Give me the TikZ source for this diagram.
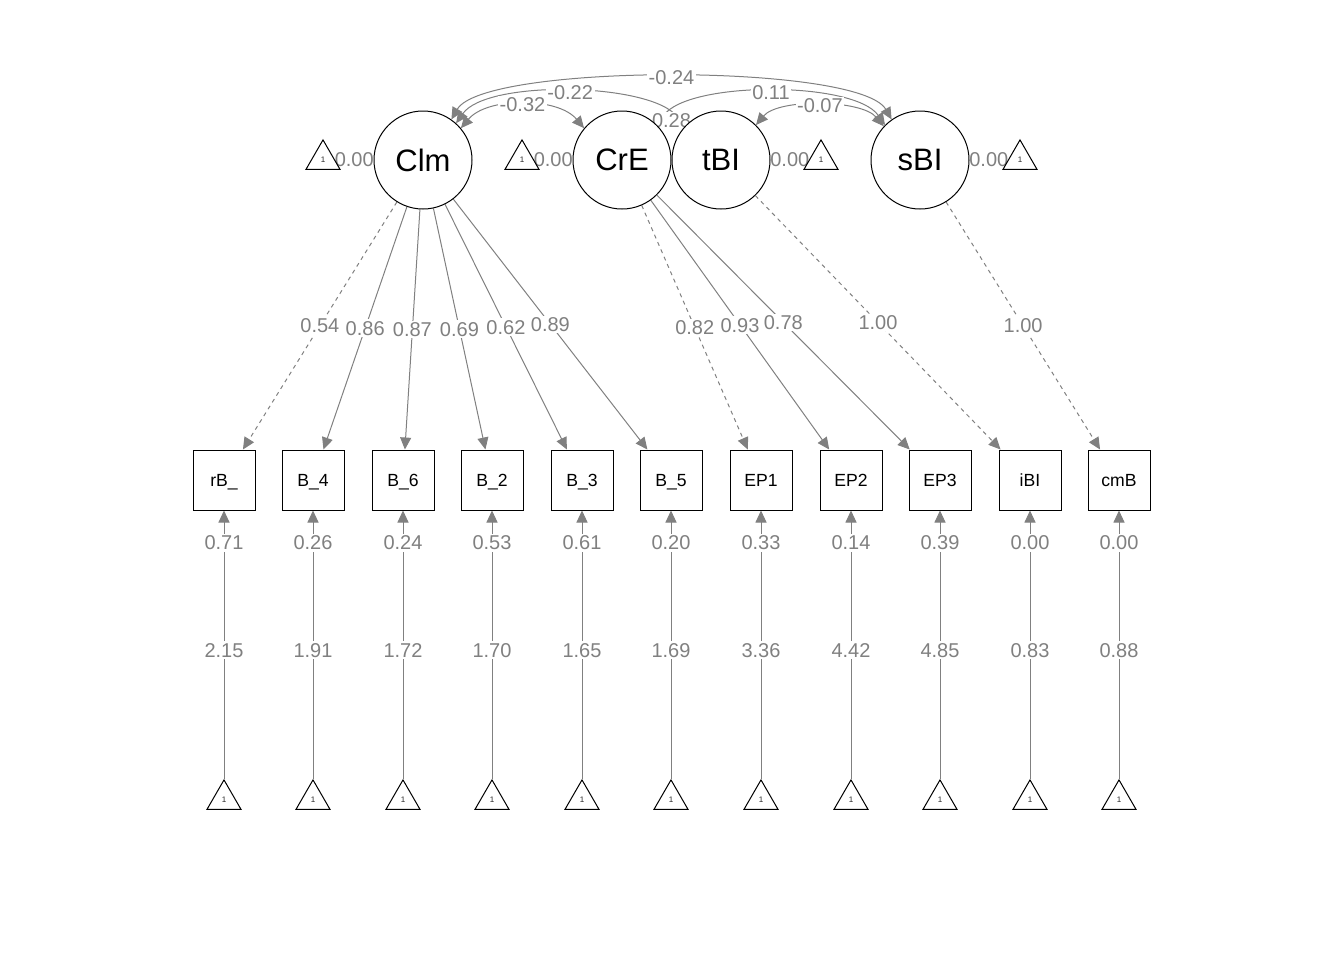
\documentclass[tikz,border=0pt]{standalone}
\usepackage{fontspec}
\setmainfont{Liberation Sans}
\usepackage{tikz}
\usetikzlibrary{shapes,arrows.meta}
\pgfdeclarelayer{background}
\pgfsetlayers{background,main}

\begin{document}
\begin{tikzpicture}[x = .5pt, y = .5pt,
  lat/.style = {draw, circle, fill = white, line width = .5pt, minimum size = 49pt, inner sep = 0pt, font = \fontsize{15.5}{18}\selectfont},
  man/.style = {draw, rectangle, fill = white, line width = .5pt, minimum width = 31pt, minimum height = 30pt, inner sep = 0pt, text height = 8pt, text depth = 1.6pt, font = \fontsize{8.8}{10}\selectfont},
  one/.style = {draw, regular polygon, regular polygon sides = 3, minimum size = 19.6pt, inner sep = 0pt, line width = .5pt, font = \fontsize{4}{5}\selectfont, text = black!85},
  arr/.style = {draw = gray, line width = .5pt, -{Triangle[length = 6pt, width = 5.5pt]}},
  fix/.style = {arr, dash pattern = on 2pt off 2pt},
  cov/.style = {arr, {Triangle[length = 6pt, width = 5.5pt]}-{Triangle[length = 6pt, width = 5.5pt]}},
  lab/.style = {fill = white, inner sep = .8pt, text height = 7.2pt, text depth = 0pt, text = gray, font = \fontsize{10}{12}\selectfont}]
\useasboundingbox (0,0) rectangle (1344,-960);
% latent variables and their intercepts
\node[lat] (Clm) at (423,-160) {Clm};
\node[lat] (CrE) at (622,-160) {CrE};
\node[lat] (tBI) at (721,-160) {tBI};
\node[lat] (sBI) at (920,-160) {sBI};
\node[one] (iClm) at (323,-159.5) {1};
\node[one] (iCrE) at (522,-159.5) {1};
\node[one] (itBI) at (821,-159.5) {1};
\node[one] (isBI) at (1020,-159.5) {1};
% observed variables
\node[man] (rB) at (224,-480) {rB\_};
\node[man] (B4) at (313,-480) {B\_4};
\node[man] (B6) at (403,-480) {B\_6};
\node[man] (B2) at (492,-480) {B\_2};
\node[man] (B3) at (582,-480) {B\_3};
\node[man] (B5) at (671,-480) {B\_5};
\node[man] (EP1) at (761,-480) {EP1};
\node[man] (EP2) at (851,-480) {EP2};
\node[man] (EP3) at (940,-480) {EP3};
\node[man] (iBI) at (1030,-480) {iBI};
\node[man] (cmB) at (1119,-480) {cmB};
\node[one] (irB) at (224,-799.5) {1};
\node[one] (iB4) at (313,-799.5) {1};
\node[one] (iB6) at (403,-799.5) {1};
\node[one] (iB2) at (492,-799.5) {1};
\node[one] (iB3) at (582,-799.5) {1};
\node[one] (iB5) at (671,-799.5) {1};
\node[one] (iEP1) at (761,-799.5) {1};
\node[one] (iEP2) at (851,-799.5) {1};
\node[one] (iEP3) at (940,-799.5) {1};
\node[one] (iiBI) at (1030,-799.5) {1};
\node[one] (icmB) at (1119,-799.5) {1};
\begin{pgfonlayer}{background}
% covariances
\draw[cov] (Clm.55) .. controls +(60:65) and +(120:65) .. node[lab]{-0.24} (sBI.125);
\draw[cov] (Clm.48) .. controls +(55:54) and +(125:54) .. node[lab]{-0.22} (tBI.138);
\draw[cov] (CrE.45) .. controls +(55:54) and +(125:54) .. node[lab]{0.11} (sBI.135);
\draw[cov] (Clm.40) .. controls +(50:41) and +(130:41) .. node[lab]{-0.32} (CrE.140);
\draw[cov] (tBI.45) .. controls +(50:35) and +(130:35) .. node[lab]{-0.07} (sBI.137);
\draw[cov] (CrE.40) .. controls +(60:12) and +(120:12) .. node[lab]{0.28} (tBI.140);
\draw[arr] (iClm) -- node[lab]{0.00} (Clm);
\draw[arr] (iCrE) -- node[lab]{0.00} (CrE);
\draw[arr] (itBI) -- node[lab]{0.00} (tBI);
\draw[arr] (isBI) -- node[lab]{0.00} (sBI);
% loadings
\draw[fix] (Clm) -- node[lab]{0.54} (rB);
\draw[arr] (Clm) -- node[lab]{0.86} (B4);
\draw[arr] (Clm) -- node[lab]{0.87} (B6);
\draw[arr] (Clm) -- node[lab]{0.69} (B2);
\draw[arr] (Clm) -- node[lab]{0.62} (B3);
\draw[arr] (Clm) -- node[lab]{0.89} (B5);
\draw[fix] (CrE) -- node[lab]{0.82} (EP1);
\draw[arr] (CrE) -- node[lab]{0.93} (EP2);
\draw[arr] (CrE) -- node[lab]{0.78} (EP3);
\draw[fix] (tBI) -- node[lab]{1.00} (iBI);
\draw[fix] (sBI) -- node[lab]{1.00} (cmB);
% intercepts and residuals
\draw[arr] (irB) -- node[lab, pos = .48]{2.15} node[lab, pos = .88]{0.71} (rB);
\draw[arr] (iB4) -- node[lab, pos = .48]{1.91} node[lab, pos = .88]{0.26} (B4);
\draw[arr] (iB6) -- node[lab, pos = .48]{1.72} node[lab, pos = .88]{0.24} (B6);
\draw[arr] (iB2) -- node[lab, pos = .48]{1.70} node[lab, pos = .88]{0.53} (B2);
\draw[arr] (iB3) -- node[lab, pos = .48]{1.65} node[lab, pos = .88]{0.61} (B3);
\draw[arr] (iB5) -- node[lab, pos = .48]{1.69} node[lab, pos = .88]{0.20} (B5);
\draw[arr] (iEP1) -- node[lab, pos = .48]{3.36} node[lab, pos = .88]{0.33} (EP1);
\draw[arr] (iEP2) -- node[lab, pos = .48]{4.42} node[lab, pos = .88]{0.14} (EP2);
\draw[arr] (iEP3) -- node[lab, pos = .48]{4.85} node[lab, pos = .88]{0.39} (EP3);
\draw[arr] (iiBI) -- node[lab, pos = .48]{0.83} node[lab, pos = .88]{0.00} (iBI);
\draw[arr] (icmB) -- node[lab, pos = .48]{0.88} node[lab, pos = .88]{0.00} (cmB);
\end{pgfonlayer}
\end{tikzpicture}
\end{document}
